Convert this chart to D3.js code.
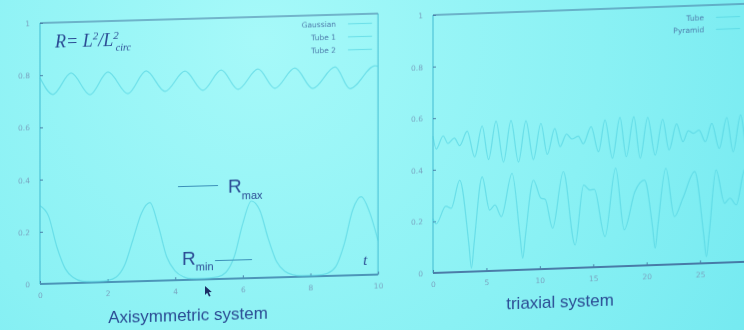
<!DOCTYPE html>
<html>
<head>
<meta charset="utf-8">
<script src="https://cdn.jsdelivr.net/npm/d3@7"></script>
<style>
  html, body { margin: 0; padding: 0; overflow: hidden; background: #8aeff2; }
  svg { display: block; }
</style>
</head>
<body>
<svg id="chart" width="744" height="330"></svg>
<script>
// ---------- Axisymmetric system ----------
const axiXTicks = [0, 2, 4, 6, 8, 10];
const axiYTicks = [0, 0.2, 0.4, 0.6, 0.8, 1];
const axiNames = ["Gaussian", "Tube 1", "Tube 2"];

const gaussianT = [0, 10];
const gaussianR = [0, 0];

const tube1T = [0, 0.25, 0.5, 0.75, 1, 1.25, 1.5, 1.75, 2, 2.25, 2.5, 2.75, 3, 3.25, 3.5, 3.75, 4, 4.25, 4.5, 4.75,
                5, 5.25, 5.5, 5.75, 6, 6.25, 6.5, 6.75, 7, 7.25, 7.5, 7.75, 8, 8.25, 8.5, 8.75, 9, 9.25, 9.5, 9.75, 10];
const tube1R = [0.30, 0.26, 0.14, 0.055, 0.02, 0.006, 0.003, 0.003, 0.006, 0.018, 0.062, 0.16, 0.26, 0.30, 0.21,
                0.09, 0.035, 0.012, 0.004, 0.003, 0.004, 0.008, 0.025, 0.085, 0.21, 0.295, 0.26, 0.15, 0.06, 0.022,
                0.008, 0.003, 0.003, 0.004, 0.01, 0.035, 0.12, 0.25, 0.30, 0.24, 0.13];

const tube2T = [0, 0.38, 0.92, 1.48, 2.01, 2.6, 3.14, 3.7, 4.29, 4.82, 5.36, 5.86, 6.45, 6.95, 7.54, 8.07, 8.73, 9.17, 9.91, 10];
const tube2R = [0.79, 0.725, 0.805, 0.72, 0.805, 0.72, 0.805, 0.725, 0.80, 0.725, 0.80, 0.725, 0.80, 0.725, 0.80, 0.72, 0.80, 0.715, 0.80, 0.798];

// ---------- Triaxial system ----------
const triXTicks = [0, 5, 10, 15, 20, 25];
const triYTicks = [0, 0.2, 0.4, 0.6, 0.8, 1];
const triNames = ["Tube", "Pyramid"];

const tubeT = [0, 0.3, 0.95, 1.4, 2.0, 2.5, 3.2, 3.9, 4.6, 5.2, 5.9, 6.6, 7.3, 8.0, 8.7, 9.4, 10.1, 10.7, 11.4, 11.9,
               12.5, 13.0, 13.6, 14.07, 14.8, 15.5, 16.1, 16.8, 17.5, 18.1, 18.8, 19.4, 20.1, 20.8, 21.5, 22.1, 22.8,
               23.4, 23.9, 24.4, 24.9, 25.5, 26.1, 26.8, 27.5, 28.1, 28.8, 29.4, 30];
const tubeR = [0.53, 0.48, 0.53, 0.50, 0.52, 0.49, 0.545, 0.444, 0.563, 0.432, 0.58, 0.42, 0.58, 0.418, 0.577, 0.426,
               0.565, 0.444, 0.543, 0.472, 0.52, 0.50, 0.51, 0.48, 0.545, 0.447, 0.569, 0.42, 0.577, 0.424, 0.578,
               0.416, 0.573, 0.426, 0.564, 0.444, 0.544, 0.474, 0.516, 0.505, 0.517, 0.471, 0.541, 0.443, 0.562,
               0.428, 0.57, 0.43, 0.55];

const pyramidT = [0, 0.3, 1.2, 1.7, 2.5, 3.35, 3.6, 3.85, 4.6, 5.3, 5.8, 6.4, 7.4, 8.15, 8.4, 8.65, 9.4, 10.1, 10.5,
                  11.2, 12.2, 13.3, 14.1, 14.7, 15.1, 16.1, 17.1, 17.9, 18.9, 19.8, 20.55, 20.8, 21.05, 21.8, 22.6,
                  23.4, 24.5, 25.35, 25.6, 25.85, 26.5, 27.3, 27.8, 28.4, 29.2, 30];
const pyramidR = [0.21, 0.19, 0.257, 0.248, 0.356, 0.11, 0.013, 0.11, 0.366, 0.236, 0.255, 0.209, 0.375, 0.13, 0.045,
                  0.13, 0.346, 0.275, 0.27, 0.157, 0.375, 0.089, 0.32, 0.30, 0.302, 0.117, 0.381, 0.141, 0.287,
                  0.331, 0.15, 0.065, 0.15, 0.374, 0.185, 0.256, 0.357, 0.11, 0.025, 0.11, 0.36, 0.23, 0.249, 0.222,
                  0.36, 0.2];

// ---------- drawing ----------
const svg = d3.select("#chart");
const defs = svg.append("defs");

const bg = defs.append("radialGradient").attr("id", "screen")
  .attr("gradientUnits", "userSpaceOnUse")
  .attr("cx", 260).attr("cy", 40).attr("r", 620);
bg.append("stop").attr("offset", 0).attr("stop-color", "#a6f9f9");
bg.append("stop").attr("offset", 0.55).attr("stop-color", "#8af1f4");
bg.append("stop").attr("offset", 1).attr("stop-color", "#70e8f0");

defs.append("filter").attr("id", "soft")
  .attr("x", "-5%").attr("y", "-5%").attr("width", "110%").attr("height", "110%")
  .append("feGaussianBlur").attr("stdDeviation", 0.55);

svg.append("rect").attr("width", 744).attr("height", 330).attr("fill", "url(#screen)");

const ink = "#2b4c94";
const tickInk = "#7aa6c2";
const curveInk = "#4fd0e0";

function drawPanel(cfg) {
  const g = svg.append("g")
    .attr("transform", `translate(${cfg.x0},${cfg.y0}) skewY(${cfg.skew})`)
    .attr("filter", "url(#soft)");

  const x = d3.scaleLinear().domain(cfg.xDomain).range([0, cfg.w]);
  const y = d3.scaleLinear().domain([0, 1]).range([cfg.h, 0]);

  // frame: verticals faint, horizontals darker
  g.append("line").attr("x1", 0).attr("x2", 0).attr("y1", 0).attr("y2", cfg.h)
    .attr("stroke", "#45bcd2").attr("stroke-width", 1);
  g.append("line").attr("x1", cfg.w).attr("x2", cfg.w).attr("y1", 0).attr("y2", cfg.h)
    .attr("stroke", "#45bcd2").attr("stroke-width", 1);
  g.append("line").attr("x1", 0).attr("x2", cfg.w).attr("y1", 0).attr("y2", 0)
    .attr("stroke", "#45739e").attr("stroke-width", 1.2);
  g.append("line").attr("x1", 0).attr("x2", cfg.w).attr("y1", cfg.h).attr("y2", cfg.h)
    .attr("stroke", "#34558f").attr("stroke-width", 1.6);

  const fmt = d3.format("~g");
  const xAxis = g.append("g").attr("transform", `translate(0,${cfg.h})`)
    .call(d3.axisBottom(x).tickValues(cfg.xTicks).tickFormat(fmt).tickSize(-3).tickPadding(9));
  const yAxis = g.append("g")
    .call(d3.axisLeft(y).tickValues(cfg.yTicks).tickFormat(fmt).tickSize(-3).tickPadding(10));
  [xAxis, yAxis].forEach(a => {
    a.select(".domain").remove();
    a.selectAll(".tick line").attr("stroke", "#4a7fa8").attr("stroke-width", 1);
    a.selectAll(".tick text").attr("fill", tickInk)
      .style("font-family", "'DejaVu Sans', sans-serif").style("font-size", "7.5px");
  });

  const line = d3.line().x(d => x(d[0])).y(d => y(d[1])).curve(d3.curveMonotoneX);
  cfg.series.forEach(s => {
    g.append("path").datum(d3.zip(s.t, s.r)).attr("d", line)
      .attr("fill", "none").attr("stroke", curveInk).attr("stroke-width", 1.2)
      .attr("stroke-opacity", 0.6).attr("stroke-linejoin", "round");
  });

  // legend
  cfg.series.forEach((s, i) => {
    const ly = cfg.legend.y + i * cfg.legend.dy;
    g.append("text").attr("x", cfg.legend.x).attr("y", ly + 2.8)
      .attr("text-anchor", "end").attr("fill", "#4f7eac")
      .style("font-family", "'DejaVu Sans', sans-serif").style("font-size", "7.5px")
      .text(s.name);
    g.append("line").attr("x1", cfg.legend.x + 12).attr("x2", cfg.legend.x + 36)
      .attr("y1", ly).attr("y2", ly)
      .attr("stroke", curveInk).attr("stroke-opacity", 0.6).attr("stroke-width", 1.1);
  });

  g.append("text").attr("x", cfg.title.x).attr("y", cfg.title.y)
    .attr("text-anchor", "middle").attr("fill", ink)
    .style("font-family", "'Liberation Sans', Arial, sans-serif").style("font-size", "17px")
    .text(cfg.title.text);

  return { g, x, y };
}

const left = drawPanel({
  x0: 40, y0: 23, w: 338, h: 261, skew: -1.6,
  xDomain: [0, 10], xTicks: axiXTicks, yTicks: axiYTicks,
  series: [
    { name: axiNames[0], t: gaussianT, r: gaussianR },
    { name: axiNames[1], t: tube1T, r: tube1R },
    { name: axiNames[2], t: tube2T, r: tube2R }
  ],
  legend: { x: 296, y: 9.5, dy: 13 },
  title: { text: "Axisymmetric system", x: 148, y: 302 }
});

const right = drawPanel({
  x0: 433, y0: 15, w: 320.4, h: 258, skew: -2.05,
  xDomain: [0, 30], xTicks: triXTicks, yTicks: triYTicks,
  series: [
    { name: triNames[0], t: tubeT, r: tubeR },
    { name: triNames[1], t: pyramidT, r: pyramidR }
  ],
  legend: { x: 271, y: 12.5, dy: 12 },
  title: { text: "triaxial system", x: 127, y: 297 }
});

// annotations on the axisymmetric panel
const L = left.g;
const serif = "'Liberation Serif', 'DejaVu Serif', serif";
const sans = "'Liberation Sans', Arial, sans-serif";

const formula = L.append("text").attr("x", 15).attr("y", 25.5).attr("fill", ink)
  .style("font-family", serif).style("font-style", "italic").style("font-size", "18px");
formula.append("tspan").text("R= L");
formula.append("tspan").attr("dy", -7).style("font-size", "11px").text("2");
formula.append("tspan").attr("dy", 7).text("/L");
formula.append("tspan").attr("dy", -7).style("font-size", "11px").text("2");
formula.append("tspan").attr("dy", 12).attr("dx", -3).style("font-size", "10px").text("circ");

L.append("line").attr("x1", 138).attr("x2", 178).attr("y1", 167.5).attr("y2", 167.5)
  .attr("stroke", "#3a8fb8").attr("stroke-width", 1.2);
const rmax = L.append("text").attr("x", 188).attr("y", 175.5).attr("fill", ink)
  .style("font-family", sans).style("font-size", "19px");
rmax.append("tspan").text("R");
rmax.append("tspan").attr("dy", 7).style("font-size", "11px").text("max");

const rmin = L.append("text").attr("x", 142).attr("y", 246).attr("fill", ink)
  .style("font-family", sans).style("font-size", "19px");
rmin.append("tspan").text("R");
rmin.append("tspan").attr("dy", 6).style("font-size", "11px").text("min");
L.append("line").attr("x1", 175).attr("x2", 212).attr("y1", 242.5).attr("y2", 242.5)
  .attr("stroke", "#3a8fb8").attr("stroke-width", 1.2);

L.append("text").attr("x", 323).attr("y", 251).attr("fill", ink)
  .style("font-family", serif).style("font-style", "italic").style("font-size", "15px")
  .text("t");

// mouse pointer resting on the slide
svg.append("path")
  .attr("d", "M205,286 l0,9 l2.2,-2.2 l1.8,3.8 l1.6,-0.7 l-1.8,-3.7 l3,-0.2 z")
  .attr("fill", "#1d2f66").attr("filter", "url(#soft)");
</script>
</body>
</html>
